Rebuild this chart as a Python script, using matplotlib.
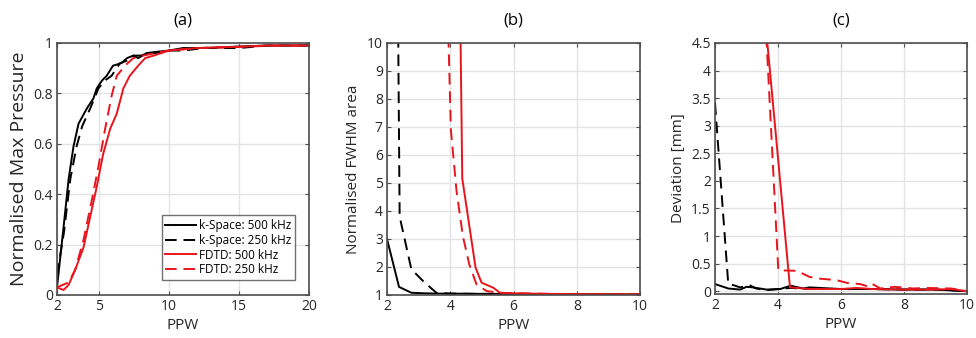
import numpy as np
import matplotlib
matplotlib.use("Agg")
import matplotlib.pyplot as plt
from matplotlib.ticker import FuncFormatter

plt.rcParams['font.family'] = ['Open Sans', 'DejaVu Sans']

# ---- panel (a): normalised max pressure ----
a_ks500_x = [2.0, 2.47, 2.83, 3.18, 3.54, 4.13, 4.6, 4.84, 5.2, 5.55, 6.0, 6.6, 7.0, 7.45, 7.8, 8.4, 9.1, 10.0, 11.0, 12.5, 14.6, 17.0, 20.0]
a_ks500_y = [0.03, 0.27, 0.46, 0.59, 0.68, 0.74, 0.78, 0.82, 0.85, 0.87, 0.91, 0.92, 0.94, 0.95, 0.94, 0.96, 0.965, 0.97, 0.98, 0.98, 0.985, 0.99, 0.99]
a_ks250_x = [2.0, 2.5, 2.95, 3.4, 3.8, 4.37, 4.96, 5.4, 5.9, 6.5, 7.0, 7.45, 8.0, 8.5, 9.0, 10.0, 11.0, 12.5, 15.0, 17.0, 20.0]
a_ks250_y = [0.08, 0.25, 0.46, 0.59, 0.67, 0.74, 0.82, 0.85, 0.87, 0.92, 0.93, 0.95, 0.95, 0.96, 0.96, 0.97, 0.97, 0.98, 0.98, 0.99, 0.99]
a_fd500_x = [2.0, 2.47, 2.83, 3.3, 3.9, 4.37, 4.84, 5.3, 5.8, 6.27, 6.74, 7.2, 7.8, 8.3, 8.9, 10.0, 12.0, 15.0, 17.0, 20.0]
a_fd500_y = [0.03, 0.02, 0.04, 0.1, 0.19, 0.31, 0.43, 0.56, 0.66, 0.72, 0.82, 0.87, 0.91, 0.94, 0.95, 0.97, 0.98, 0.985, 0.99, 0.99]
a_fd250_x = [2.0, 2.4, 2.83, 3.3, 3.9, 4.5, 4.96, 5.44, 5.9, 6.27, 6.86, 7.45, 8.16, 9.0, 10.0, 12.0, 15.0, 18.0, 20.0]
a_fd250_y = [0.03, 0.04, 0.05, 0.1, 0.22, 0.38, 0.51, 0.66, 0.79, 0.87, 0.91, 0.94, 0.95, 0.96, 0.97, 0.98, 0.985, 0.99, 0.99]

# ---- panel (b): normalised FWHM area ----
b_ks500_x = [2.0, 2.38, 2.77, 3.2, 3.56, 4.0, 5.0, 6.0, 8.0, 10.0]
b_ks500_y = [3.0, 1.29, 1.08, 1.06, 1.05, 1.05, 1.04, 1.04, 1.03, 1.02]
b_ks250_x = [2.0, 2.4, 2.77, 3.14, 3.56, 4.0, 5.0, 6.0, 8.0, 10.0]
b_ks250_y = [60.0, 3.8, 1.92, 1.5, 1.08, 1.05, 1.04, 1.04, 1.03, 1.02]
b_fd500_x = [4.0, 4.38, 4.8, 4.99, 5.36, 5.57, 6.0, 7.0, 8.0, 10.0]
b_fd500_y = [40.0, 5.16, 1.98, 1.44, 1.26, 1.08, 1.06, 1.04, 1.03, 1.02]
b_fd250_x = [3.9, 4.02, 4.2, 4.4, 4.6, 4.83, 5.15, 5.57, 6.0, 8.0, 10.0]
b_fd250_y = [12.0, 6.9, 4.7, 3.1, 2.1, 1.38, 1.14, 1.08, 1.06, 1.03, 1.02]

# ---- panel (c): deviation ----
c_ks500_x = [2.0, 2.42, 2.8, 3.0, 3.2, 3.64, 4.07, 4.4, 4.8, 5.0, 6.0, 7.0, 8.0, 9.0, 10.0]
c_ks500_y = [0.13, 0.05, 0.03, 0.08, 0.07, 0.03, 0.04, 0.1, 0.05, 0.07, 0.04, 0.04, 0.03, 0.03, 0.0]
c_ks250_x = [2.0, 2.42, 2.8, 3.1, 3.3, 3.64, 4.0, 4.4, 5.0, 6.0, 7.0, 8.0, 9.0, 10.0]
c_ks250_y = [3.41, 0.14, 0.07, 0.11, 0.05, 0.02, 0.04, 0.06, 0.04, 0.04, 0.04, 0.03, 0.03, 0.0]
c_fd500_x = [3.5, 4.38, 5.0, 6.0, 6.5, 7.0, 8.0, 9.0, 9.5, 10.0]
c_fd500_y = [5.5, 0.07, 0.04, 0.04, 0.06, 0.04, 0.03, 0.03, 0.04, 0.0]
c_fd250_x = [3.55, 4.01, 4.6, 5.0, 5.3, 5.87, 6.2, 6.6, 6.9, 7.0, 7.25, 7.7, 8.3, 8.7, 9.5, 10.0]
c_fd250_y = [5.5, 0.38, 0.37, 0.26, 0.23, 0.2, 0.15, 0.13, 0.08, 0.13, 0.05, 0.08, 0.05, 0.06, 0.05, 0.0]

series_labels = ['k-Space: 500 kHz', 'k-Space: 250 kHz', 'FDTD: 500 kHz', 'FDTD: 250 kHz']
series_colors = ['black', 'black', '#e8141c', '#e8141c']
series_styles = ['-', (0, (6, 3.5)), '-', (0, (6, 3.5))]

frame_col = '#262626'
grid_col = '#e3e3e3'


def fmt(v, pos):
    s = ('%.2f' % v).rstrip('0').rstrip('.')
    return s


def style_axes(ax, xlim, ylim, xticks, yticks, ylabel, ylabel_size, title):
    ax.set_xlim(xlim)
    ax.set_ylim(ylim)
    ax.set_xticks(xticks)
    ax.set_yticks(yticks)
    ax.xaxis.set_major_formatter(FuncFormatter(fmt))
    ax.yaxis.set_major_formatter(FuncFormatter(fmt))
    ax.grid(True, color=grid_col, linewidth=1.0)
    ax.set_axisbelow(True)
    for sp in ax.spines.values():
        sp.set_color('#4d4d4d')
        sp.set_linewidth(1.2)
    ax.tick_params(direction='in', length=3, width=0.8, color='#4d4d4d',
                   top=True, right=True, labelsize=10, labelcolor=frame_col, pad=3)
    ax.set_xlabel('PPW', fontsize=11, color=frame_col, labelpad=3)
    ax.set_ylabel(ylabel, fontsize=ylabel_size, color=frame_col, labelpad=4)
    ax.set_title(title, fontsize=12, color='black', pad=13)


fig = plt.figure(figsize=(9.76, 3.38), dpi=100)
W, H = 976.0, 338.0


def add_ax(l, r, t, b):
    return fig.add_axes([l / W, 1 - b / H, (r - l) / W, (b - t) / H])


ax_a = add_ax(57, 309, 43, 295)
ax_b = add_ax(387, 640, 43, 295)
ax_c = add_ax(715, 967, 43, 294)

a_data = [(a_ks500_x, a_ks500_y), (a_ks250_x, a_ks250_y), (a_fd500_x, a_fd500_y), (a_fd250_x, a_fd250_y)]
b_data = [(b_ks500_x, b_ks500_y), (b_ks250_x, b_ks250_y), (b_fd500_x, b_fd500_y), (b_fd250_x, b_fd250_y)]
c_data = [(c_ks500_x, c_ks500_y), (c_ks250_x, c_ks250_y), (c_fd500_x, c_fd500_y), (c_fd250_x, c_fd250_y)]

for ax, data in [(ax_a, a_data), (ax_b, b_data), (ax_c, c_data)]:
    for (x, y), lab, col, ls in zip(data, series_labels, series_colors, series_styles):
        ax.plot(x, y, color=col, linestyle=ls, linewidth=1.4, label=lab)

style_axes(ax_a, (2, 20), (0, 1), [2, 5, 10, 15, 20], np.arange(0, 1.01, 0.2),
           'Normalised Max Pressure', 14, '(a)')
style_axes(ax_b, (2, 10), (1, 10), [2, 4, 6, 8, 10], np.arange(1, 10.1, 1),
           'Normalised FWHM area', 11, '(b)')
style_axes(ax_c, (2, 10), (-0.05, 4.5), [2, 4, 6, 8, 10], np.arange(0, 4.51, 0.5),
           'Deviation [mm]', 11, '(c)')

leg = ax_a.legend(loc='lower right', bbox_to_anchor=(0.945, 0.06), fontsize=8.5,
                  frameon=True, fancybox=False, handlelength=2.6, handletextpad=0.3,
                  borderpad=0.3, labelspacing=0.15, borderaxespad=0)
leg.get_frame().set_edgecolor('#4d4d4d')
leg.get_frame().set_linewidth(1.0)

fig.savefig('out.png', dpi=100)
